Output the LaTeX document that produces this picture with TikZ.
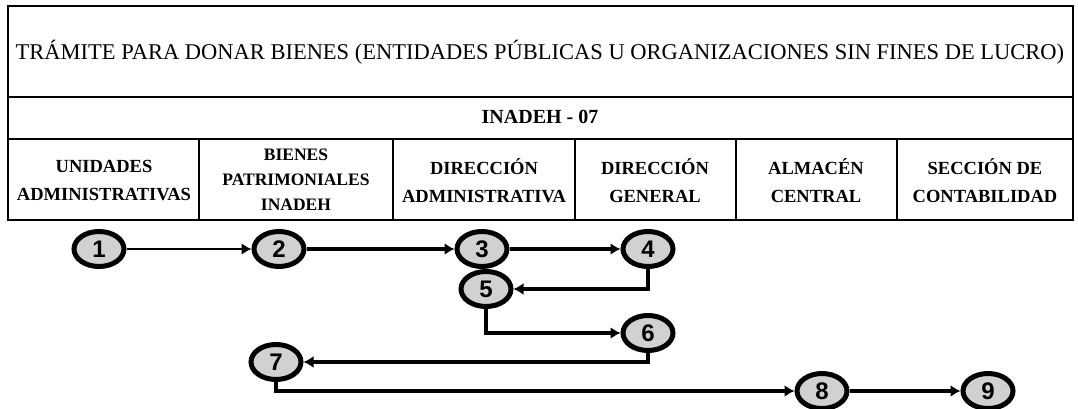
\documentclass[tikz,border=0pt]{standalone}
\usepackage{fontspec}
\setmainfont{Liberation Serif}
\newfontfamily\numfont{Liberation Sans}
\usetikzlibrary{arrows.meta,shapes.geometric}

\begin{document}
\begin{tikzpicture}[
  x=1pt, y=-1pt,
  frame/.style={
    line width=1.5pt
  },
  head/.style={
    align=center,
    inner sep=0pt,
    font=\fontsize{18.5}{28}\selectfont\bfseries
  },
  stepnode/.style={
    ellipse,
    draw,
    line width=5pt,
    fill=black!18,
    minimum width=50pt,
    minimum height=35pt,
    inner sep=0pt,
    font=\fontsize{24}{24}\selectfont\numfont\bfseries
  },
  edge/.style={
    -{Latex[length=10pt,width=12pt]},
    line width=3.6pt
  }
]

\path[use as bounding box, fill=white] (0,0) rectangle (1078,409);

% table
\draw[frame] (8,6) rectangle (1073,220);
\draw[frame] (8,97) -- (1073,97);
\draw[frame] (8,139) -- (1073,139);
\foreach \cx in {199,393,575,736,897}
  \draw[frame] (\cx,139) -- (\cx,220);

\node[inner sep=0pt, font=\fontsize{22.5}{24}\selectfont] (title) at (540,52)
  {TRÁMITE PARA DONAR BIENES (ENTIDADES PÚBLICAS U ORGANIZACIONES SIN FINES DE LUCRO)};
\node[head, font=\fontsize{20}{22}\selectfont\bfseries] (code) at (540,117) {INADEH - 07};

\node[head] (c1) at (104,181) {UNIDADES\\ADMINISTRATIVAS};
\node[head, font=\fontsize{17.5}{25}\selectfont\bfseries] (c2) at (296,180) {BIENES\\PATRIMONIALES\\INADEH};
\node[head] (c3) at (484,181) {DIRECCIÓN\\ADMINISTRATIVA};
\node[head] (c4) at (655,181) {DIRECCIÓN\\GENERAL};
\node[head] (c5) at (816,181) {ALMACÉN\\CENTRAL};
\node[head] (c6) at (985,181) {SECCIÓN DE\\CONTABILIDAD};

% steps
\node[stepnode] (s1) at (99,249)  {1};
\node[stepnode] (s2) at (279,249) {2};
\node[stepnode] (s3) at (482,249) {3};
\node[stepnode] (s4) at (648,249) {4};
\node[stepnode] (s5) at (486,289) {5};
\node[stepnode] (s6) at (648,333) {6};
\node[stepnode] (s7) at (276,362) {7};
\node[stepnode] (s8) at (822,391) {8};
\node[stepnode] (s9) at (988,391) {9};

\draw[edge, line width=2.6pt] (s1) -- (s2);
\draw[edge] (s2) -- (s3);
\draw[edge] (s3) -- (s4);
\draw[edge] (s4.south) |- (s5);
\draw[edge] (s5.south) |- (s6);
\draw[edge] (s6.south) |- (s7);
\draw[edge] (s7.south) |- (s8);
\draw[edge] (s8) -- (s9);

\end{tikzpicture}
\end{document}
